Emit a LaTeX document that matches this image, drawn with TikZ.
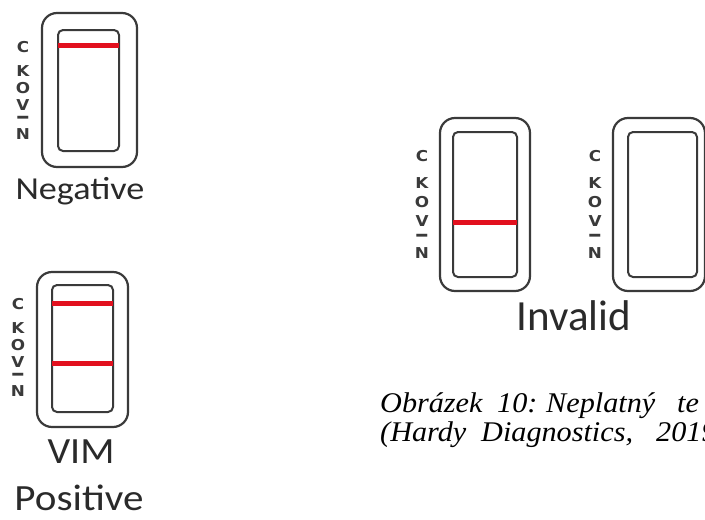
\documentclass[tikz,border=0pt]{standalone}
\usepackage{fontspec}
\setmainfont{Liberation Serif}
\newfontfamily\labelfont{Carlito}
\newfontfamily\stripfont{DejaVu Sans}
\definecolor{redband}{HTML}{E2101E}
\definecolor{framegray}{HTML}{3A3A3A}
\definecolor{labelgray}{HTML}{2A2A2A}

\tikzset{
  outerframe/.style={draw=framegray, line width=2.2pt, rounded corners=15pt},
  innerframe/.style={draw=framegray, line width=2pt, rounded corners=5pt},
  redline/.style={draw=redband, line width=5pt},
  stripletter/.style={text=framegray, inner sep=0pt, font=\stripfont\bfseries\fontsize{15}{15}\selectfont},
  resultlabel/.style={text=labelgray, inner sep=0pt, anchor=base},
  captionword/.style={inner sep=0pt, anchor=base west, font=\itshape\fontsize{28.5}{28.5}\selectfont},
}

% wide glyph helpers
\newcommand\wideletter[1]{\scalebox{1.12}[1]{#1}}
\newcommand\widecap[1]{\scalebox{1.06}[1]{#1}}

% letters C K O V I N stacked beside a cassette: name, x, top of cassette, vertical scale
\newcommand\ckovin[4]{%
  \foreach \ch/\dy in {C/34,K/58,O/75,V/92,N/121}{
    \node[stripletter] (#1-\ch) at (#2, #3+#4*\dy) {\wideletter{\ch}};
  }
  \node[stripletter, rotate=90] (#1-I) at (#2, #3+#4*105) {I};
}

\begin{document}
\begin{tikzpicture}[x=1pt, y=-1pt]
\useasboundingbox (0,0) rectangle (705,520);
\clip (0,0) rectangle (705,520);

% negative cassette
\draw[outerframe] (42,13) rectangle (137,167);
\draw[innerframe] (58,30) rectangle (119,151);
\draw[redline] (58,45) -- (119,45);
\ckovin{neg}{23}{13}{1}
\node[resultlabel, font=\labelfont\fontsize{32}{32}\selectfont] (negative) at (80,199) {\scalebox{1.13}[1]{Negative}};

% positive cassette
\draw[outerframe] (37,272) rectangle (128,427);
\draw[innerframe] (52,285) rectangle (113,412);
\draw[redline] (52,303) -- (113,303);
\draw[redline] (52,363) -- (113,363);
\ckovin{pos}{18}{270}{1}
\node[resultlabel, font=\labelfont\fontsize{37}{37}\selectfont] (vim) at (81,463) {\scalebox{1.08}[1]{VIM}};
\node[resultlabel, font=\labelfont\fontsize{37}{37}\selectfont] (positive) at (79,510) {\scalebox{1.11}[1]{Positive}};

% invalid cassettes
\draw[outerframe] (440,118) rectangle (530,291);
\draw[innerframe] (453,132) rectangle (517,277);
\draw[redline] (453,222) -- (517,222);
\ckovin{invA}{422}{118}{1.12}

\draw[outerframe] (613,118) rectangle (705,291);
\draw[innerframe] (628,132) rectangle (697,277);
\ckovin{invB}{595}{118}{1.12}

\node[resultlabel, font=\labelfont\fontsize{43}{43}\selectfont] (invalid) at (574,330) {Invalid};

% caption
\node[captionword] (c1) at (380,412) {\widecap{Obrázek}};
\node[captionword] (c2) at (497,412) {\widecap{10:}};
\node[captionword] (c3) at (546,412) {\widecap{Neplatný}};
\node[captionword] (c4) at (677,412) {\widecap{te}};
\node[captionword] (c5) at (380,441) {\widecap{(Hardy}};
\node[captionword] (c6) at (481,441) {\widecap{Diagnostics,}};
\node[captionword] (c7) at (656,441) {\widecap{2019}};
\end{tikzpicture}
\end{document}
